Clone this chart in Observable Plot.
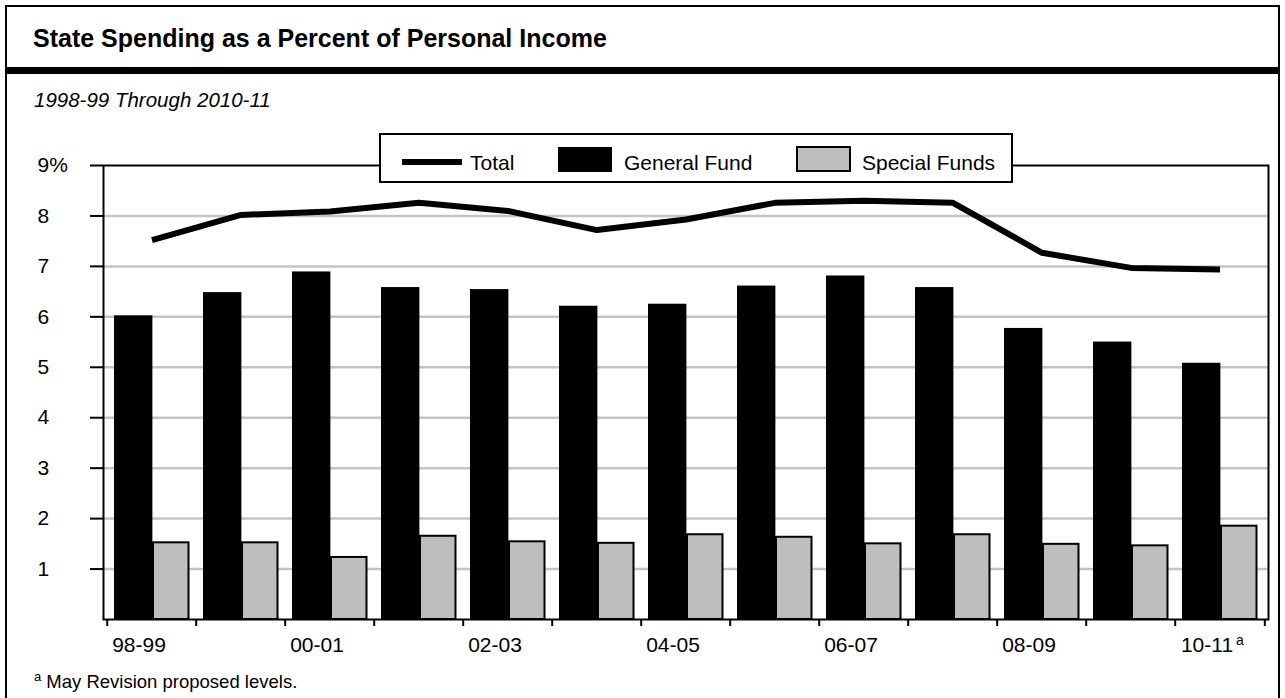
<!DOCTYPE html>
<html>
<head>
<meta charset="utf-8">
<script src="https://cdn.jsdelivr.net/npm/d3@7"></script>
<script src="https://cdn.jsdelivr.net/npm/@observablehq/plot@0.6"></script>
<style>
  html, body { margin: 0; padding: 0; background: #fff; }
  #wrap { position: relative; width: 1285px; height: 698px; overflow: hidden; font-family: "Liberation Sans", Arial, Helvetica, sans-serif; }
  #chart { position: absolute; left: 0; top: 140px; }
  #overlay { position: absolute; left: 0; top: 0; pointer-events: none; }
</style>
</head>
<body>
<div id="wrap">
  <div id="chart"></div>
  <svg id="overlay" width="1285" height="698" font-family="Liberation Sans, Arial, Helvetica, sans-serif">
    <rect x="6" y="6" width="1273" height="720" fill="none" stroke="#000" stroke-width="2"/>
    <rect x="6" y="67" width="1273" height="7" fill="#000"/>
    <text x="33" y="47" font-size="25" font-weight="bold" fill="#000">State Spending as a Percent of Personal Income</text>
    <text x="34" y="107" font-size="20.5" font-style="italic" fill="#000">1998-99 Through 2010-11</text>
    <g id="legend">
      <rect x="380" y="134" width="632" height="48" fill="#fff" stroke="#000" stroke-width="2"/>
      <rect x="402" y="159" width="60" height="6" fill="#000"/>
      <text x="470" y="170" font-size="21" fill="#000">Total</text>
      <rect x="558" y="147" width="54" height="25" fill="#000"/>
      <text x="624" y="170" font-size="21" fill="#000">General Fund</text>
      <rect x="797" y="147" width="53" height="24" fill="#bdbec0" stroke="#000" stroke-width="2"/>
      <text x="862" y="170" font-size="21" fill="#000">Special Funds</text>
    </g>
    <text x="34" y="688" font-size="18.5" fill="#000"><tspan font-size="13" dy="-7">a</tspan><tspan dy="7"> May Revision proposed levels.</tspan></text>
  </svg>
</div>
<script>
const years = ["98-99","99-00","00-01","01-02","02-03","03-04","04-05","05-06","06-07","07-08","08-09","09-10","10-11"];
const generalFund = [6.02, 6.48, 6.89, 6.58, 6.54, 6.21, 6.25, 6.61, 6.81, 6.58, 5.77, 5.50, 5.08];
const specialFunds = [1.52, 1.52, 1.23, 1.65, 1.54, 1.51, 1.68, 1.63, 1.50, 1.68, 1.49, 1.46, 1.85];
const total = [7.52, 8.02, 8.09, 8.26, 8.10, 7.72, 7.93, 8.26, 8.30, 8.26, 7.27, 6.97, 6.94];
const labeledYears = ["98-99","00-01","02-03","04-05","06-07","08-09","10-11"];
const footnoteYear = ["10-11"];
const yTicks = [1,2,3,4,5,6,7,8,9];
const gridTicks = [1,2,3,4,5,6,7,8];

const rows = years.map((y, i) => ({year: y, gf: generalFund[i], sf: specialFunds[i], total: total[i]}));

const W = 1285, H = 520, mL = 103, mR = 17, mT = 25, mB = 41;
const bw = (W - mL - mR) / years.length;
const frameH = H - mT - mB;

const chart = Plot.plot({
  width: W,
  height: H,
  marginLeft: mL,
  marginRight: mR,
  marginTop: mT,
  marginBottom: mB,
  style: {fontFamily: "Liberation Sans, Arial, Helvetica, sans-serif", fontSize: "21px", color: "#000", background: "transparent", overflow: "visible"},
  x: {type: "band", domain: years, padding: 0, axis: null, label: null},
  y: {domain: [0, 9], axis: null, label: null},
  marks: [
    Plot.gridY(gridTicks, {stroke: "#c4c4c4", strokeOpacity: 1, strokeWidth: 2.5}),
    Plot.barY(rows, {x: "year", y: "gf", fill: "#000", insetLeft: 7, insetRight: bw - 46}),
    Plot.barY(rows, {x: "year", y: "sf", fill: "#bdbec0", stroke: "#000", strokeWidth: 2, insetLeft: 46, insetRight: 7.5}),
    Plot.frame({stroke: "#000", strokeWidth: 2}),
    Plot.tickX(years, {x: d => d, dx: -bw / 2, stroke: "#000", strokeWidth: 2, insetTop: frameH, insetBottom: -7}),
    Plot.tickX(footnoteYear, {x: d => d, dx: bw / 2, stroke: "#000", strokeWidth: 2, insetTop: frameH, insetBottom: -7}),
    Plot.line(rows, {x: "year", y: "total", stroke: "#000", strokeWidth: 6, strokeLinejoin: "bevel", strokeLinecap: "butt", curve: "linear"}),
    Plot.axisY({ticks: yTicks, tickSize: 13, tickPadding: 53, textAnchor: "start", strokeWidth: 2, tickFormat: d => d === 9 ? "9%" : String(d), fontSize: 21, label: null}),
    Plot.axisX({ticks: labeledYears, tickSize: 0, tickPadding: 18, dx: -13, fontSize: 21, label: null}),
    Plot.text(footnoteYear, {x: d => d, text: () => "a", frameAnchor: "bottom", textAnchor: "start", lineAnchor: "bottom", dx: 16, dy: 25, fontSize: 14})
  ]
});
document.getElementById("chart").appendChild(chart);
</script>
</body>
</html>
